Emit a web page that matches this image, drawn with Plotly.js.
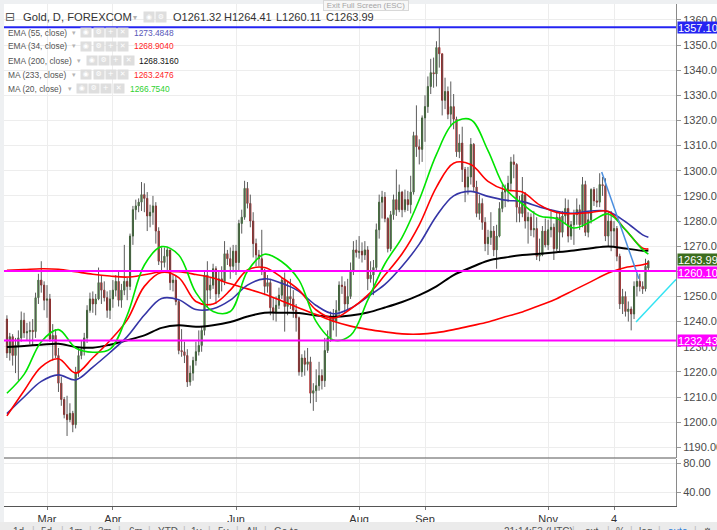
<!DOCTYPE html>
<html><head><meta charset="utf-8">
<script src="https://cdn.plot.ly/plotly-3.0.1.min.js"></script>
<style>html,body{margin:0;padding:0;background:#fff;overflow:hidden}#chart{width:717px;height:530px}</style>
</head><body><div id="chart"></div>
<script>
// ---- Daily OHLC (bar index 0 = first visible bar) ----
const O = [1241.0,1227.5,1234.0,1226.5,1230.5,1233.5,1240.5,1235.5,1236.0,1236.5,
1236.0,1249.5,1256.5,1254.5,1248.5,1249.0,1233.0,1234.5,1226.5,1215.5,
1209.0,1203.0,1201.0,1203.5,1199.0,1219.5,1226.5,1229.0,1233.5,1244.5,
1249.0,1247.0,1249.0,1255.5,1252.5,1249.5,1244.5,1249.0,1252.5,1256.0,
1248.5,1252.5,1256.0,1254.0,1274.0,1284.5,1286.0,1287.5,1290.5,1289.0,
1282.0,1283.5,1286.0,1276.0,1264.0,1263.5,1266.0,1268.5,1255.5,1256.5,
1248.0,1228.5,1228.0,1226.5,1216.0,1219.5,1224.5,1228.0,1230.5,1236.5,
1258.5,1252.5,1254.5,1261.0,1251.0,1257.0,1256.0,1267.0,1265.0,1262.0,
1268.0,1263.5,1279.0,1281.5,1293.0,1287.0,1280.0,1271.0,1266.5,1265.0,
1260.5,1254.0,1255.5,1245.5,1243.5,1246.5,1250.5,1256.5,1246.0,1250.0,
1249.0,1244.5,1241.5,1220.0,1225.5,1223.0,1224.0,1211.5,1212.5,1214.5,
1218.5,1216.5,1228.5,1233.5,1241.5,1240.0,1244.5,1254.5,1254.0,1247.0,
1250.0,1260.5,1268.5,1267.5,1268.0,1266.5,1268.5,1257.0,1258.5,1261.5,
1276.5,1287.5,1289.5,1281.0,1269.0,1282.5,1288.5,1284.5,1291.5,1284.5,
1288.5,1286.5,1291.5,1314.0,1309.5,1308.5,1321.0,1325.5,1333.5,1339.0,
1338.5,1349.0,1346.5,1328.0,1331.5,1322.5,1325.5,1320.5,1307.5,1311.0,
1300.5,1293.5,1297.5,1310.5,1293.5,1283.0,1287.0,1279.5,1271.0,1273.5,
1276.0,1268.5,1274.0,1285.0,1291.5,1292.5,1295.0,1303.5,1302.5,1285.5,
1283.0,1290.5,1280.0,1281.5,1276.5,1277.0,1266.0,1266.5,1276.0,1270.5,
1276.5,1277.5,1269.0,1281.5,1275.5,1282.0,1285.0,1274.0,1278.5,1282.5,
1284.5,1278.5,1294.5,1275.5,1280.5,1292.5,1288.0,1287.5,1294.5,1294.0,
1274.0,1280.0,1276.0,1277.0,1266.0,1247.0,1250.0,1244.0,1245.0,1243.0,
1254.0,1256.0,1254.0,1253.0,1261.32];
const H = [1242.5,1235.5,1235.0,1233.5,1236.5,1244.0,1243.5,1239.5,1240.0,1241.0,
1251.5,1259.0,1264.0,1256.0,1254.5,1251.0,1239.0,1237.0,1229.5,1218.0,
1210.0,1210.5,1207.5,1204.5,1222.0,1229.5,1232.5,1235.5,1246.5,1251.5,
1252.0,1251.0,1261.5,1258.5,1256.0,1252.0,1252.5,1256.5,1258.5,1260.5,
1255.0,1270.5,1257.5,1275.0,1286.0,1288.5,1289.0,1295.5,1295.0,1291.5,
1286.5,1290.0,1287.5,1277.5,1269.5,1269.5,1269.5,1268.5,1258.5,1258.5,
1248.5,1237.0,1232.0,1229.0,1222.5,1226.0,1232.0,1236.5,1238.0,1260.0,
1264.0,1257.5,1263.0,1262.0,1260.0,1262.0,1272.0,1268.5,1269.5,1270.5,
1270.5,1280.5,1284.5,1296.0,1295.5,1290.5,1283.5,1273.0,1268.5,1276.5,
1261.0,1258.5,1257.0,1249.5,1250.0,1253.5,1257.5,1259.5,1256.0,1257.0,
1252.5,1247.0,1242.0,1227.0,1228.5,1229.5,1226.0,1215.5,1221.0,1224.0,
1221.0,1233.5,1236.5,1244.0,1245.0,1248.5,1256.0,1258.0,1256.0,1257.0,
1263.5,1272.0,1272.5,1274.0,1271.5,1272.0,1270.0,1264.0,1264.5,1279.0,
1290.5,1292.0,1291.5,1281.5,1284.0,1290.5,1300.5,1294.5,1292.0,1292.5,
1292.0,1298.0,1315.5,1326.0,1312.5,1322.0,1330.0,1337.5,1344.5,1345.0,
1351.5,1357.1,1346.5,1337.0,1333.5,1335.5,1330.5,1321.5,1314.5,1317.5,
1301.5,1301.5,1313.0,1311.0,1296.0,1290.5,1289.0,1281.5,1276.5,1283.5,
1278.0,1278.5,1287.5,1294.5,1294.5,1298.0,1305.5,1306.5,1303.0,1290.0,
1297.5,1291.5,1283.5,1283.0,1284.0,1281.5,1273.0,1278.0,1281.0,1280.5,
1284.5,1279.0,1283.5,1283.5,1284.0,1289.0,1288.5,1280.0,1284.5,1289.0,
1286.5,1297.5,1296.0,1283.5,1293.0,1293.5,1293.0,1299.0,1297.5,1297.0,
1284.0,1284.0,1280.0,1278.0,1267.0,1253.0,1252.0,1248.0,1246.0,1256.0,
1259.0,1259.0,1256.0,1265.0,1264.41];
const L = [1225.5,1224.5,1222.5,1219.5,1216.5,1232.0,1233.5,1232.5,1231.0,1230.5,
1233.5,1247.0,1251.5,1244.5,1241.5,1232.0,1224.5,1225.5,1212.0,1206.5,
1201.5,1194.5,1200.0,1196.0,1197.5,1218.0,1225.0,1226.5,1231.5,1243.5,
1243.5,1242.5,1248.5,1247.0,1248.0,1241.5,1241.0,1245.5,1250.0,1246.0,
1245.5,1250.5,1248.5,1252.5,1270.5,1280.5,1283.5,1284.0,1283.5,1276.0,
1277.5,1278.5,1271.0,1262.5,1260.5,1261.5,1260.5,1252.5,1252.0,1246.5,
1227.0,1226.0,1223.5,1214.0,1214.5,1216.5,1222.5,1226.5,1228.0,1234.5,
1245.5,1249.0,1253.0,1247.0,1249.5,1252.0,1254.5,1262.5,1257.0,1259.5,
1258.5,1260.5,1275.0,1280.5,1285.0,1277.5,1265.5,1262.0,1262.0,1258.5,
1250.5,1251.5,1242.5,1240.5,1240.0,1245.0,1249.0,1236.0,1242.5,1245.0,
1241.5,1236.0,1218.5,1218.0,1218.5,1220.5,1207.5,1204.5,1208.0,1212.5,
1213.0,1214.0,1227.5,1232.0,1236.5,1234.0,1242.0,1251.0,1243.5,1245.0,
1249.0,1258.5,1265.5,1265.0,1263.5,1264.5,1252.5,1255.5,1250.5,1260.0,
1273.0,1281.0,1279.5,1267.5,1268.0,1280.5,1282.0,1283.5,1281.5,1283.5,
1284.0,1283.0,1290.5,1305.5,1302.5,1303.5,1311.5,1323.0,1330.5,1333.0,
1333.5,1341.0,1322.0,1324.5,1320.5,1317.5,1316.5,1305.5,1305.0,1295.5,
1287.5,1290.5,1294.5,1291.5,1281.5,1280.5,1276.5,1268.0,1266.5,1270.5,
1266.0,1261.0,1273.5,1283.5,1285.5,1287.5,1292.0,1297.0,1279.5,1279.5,
1281.5,1277.0,1271.0,1274.0,1273.5,1264.5,1264.0,1266.0,1269.5,1268.5,
1273.5,1264.5,1268.0,1268.0,1273.5,1279.0,1271.5,1272.5,1270.5,1278.5,
1276.5,1277.5,1274.0,1273.5,1279.0,1286.0,1285.5,1285.5,1290.0,1272.0,
1270.0,1268.0,1270.0,1264.0,1245.0,1243.0,1242.0,1240.0,1236.5,1241.0,
1250.0,1252.0,1251.0,1252.0,1260.11];
const C = [1227.5,1234.0,1226.5,1230.5,1233.5,1240.5,1235.5,1236.0,1236.5,1236.0,
1249.5,1256.5,1254.5,1248.5,1249.0,1233.0,1234.5,1226.5,1215.5,1209.0,
1203.0,1201.0,1203.5,1199.0,1219.5,1226.5,1229.0,1233.5,1244.5,1249.0,
1247.0,1249.0,1255.5,1252.5,1249.5,1244.5,1249.0,1252.5,1256.0,1248.5,
1252.5,1256.0,1254.0,1274.0,1284.5,1286.0,1287.5,1290.5,1289.0,1282.0,
1283.5,1286.0,1276.0,1264.0,1263.5,1266.0,1268.5,1255.5,1256.5,1248.0,
1228.5,1228.0,1226.5,1216.0,1219.5,1224.5,1228.0,1230.5,1236.5,1258.5,
1252.5,1254.5,1261.0,1251.0,1257.0,1256.0,1267.0,1265.0,1262.0,1268.0,
1263.5,1279.0,1281.5,1293.0,1287.0,1280.0,1271.0,1266.5,1265.0,1260.5,
1254.0,1255.5,1245.5,1243.5,1246.5,1250.5,1256.5,1246.0,1250.0,1249.0,
1244.5,1241.5,1220.0,1225.5,1223.0,1224.0,1211.5,1212.5,1214.5,1218.5,
1216.5,1228.5,1233.5,1241.5,1240.0,1244.5,1254.5,1254.0,1247.0,1250.0,
1260.5,1268.5,1267.5,1268.0,1266.5,1268.5,1257.0,1258.5,1261.5,1276.5,
1287.5,1289.5,1281.0,1269.0,1282.5,1288.5,1284.5,1291.5,1284.5,1288.5,
1286.5,1291.5,1314.0,1309.5,1308.5,1321.0,1325.5,1333.5,1339.0,1338.5,
1349.0,1346.5,1328.0,1331.5,1322.5,1325.5,1320.5,1307.5,1311.0,1300.5,
1293.5,1297.5,1310.5,1293.5,1283.0,1287.0,1279.5,1271.0,1273.5,1276.0,
1268.5,1274.0,1285.0,1291.5,1292.5,1295.0,1303.5,1302.5,1285.5,1283.0,
1290.5,1280.0,1281.5,1276.5,1277.0,1266.0,1266.5,1276.0,1270.5,1276.5,
1277.5,1269.0,1281.5,1275.5,1282.0,1285.0,1274.0,1278.5,1282.5,1284.5,
1278.5,1294.5,1275.5,1280.5,1292.5,1288.0,1287.5,1294.5,1294.0,1274.0,
1280.0,1276.0,1277.0,1266.0,1247.0,1250.0,1244.0,1245.0,1243.0,1254.0,
1256.0,1254.0,1253.0,1262.0,1263.99];

// ---- Time axis labels (bar index of label) ----
const tickIdx = [14, 37, 80, 123, 146, 189, 212];
const tickLabels = ['Mar', 'Apr', 'Jun', 'Aug', 'Sep', 'Nov', '4'];

const maX = [0,6,12,18,24,30,36,42,48,54,60,66,72,78,84,90,96,102,108,114,120,126,132,138,144,150,156,162,168,174,180,186,192,198,204,210,216,222,224];
const ma20 = [1211.5,1219,1232,1236.8,1229.5,1227.8,1229,1242.5,1262.5,1269.8,1266.5,1251.5,1244,1244,1260,1266.8,1263.8,1256.5,1240,1232.7,1234.5,1248.5,1263,1273.5,1288.5,1306.5,1319,1320.3,1308,1293,1286.8,1282,1281,1277.2,1279.8,1282.8,1276.5,1268.6,1266.8];
const ema34 = [1202.5,1212.5,1222,1225.2,1219.5,1225.6,1232.5,1240.7,1254,1259.5,1257.5,1248,1247,1252.5,1260.5,1261.5,1257.5,1252.5,1244.6,1241.4,1245,1250.5,1258.5,1267,1278.5,1293.5,1303,1302.5,1295.8,1292.4,1291.5,1286.4,1283.4,1282.9,1283.4,1283.8,1276.5,1269.2,1268.9];
const ema55 = [1203.4,1210,1216.2,1218.8,1216.8,1221.9,1227.7,1234,1242.6,1249.2,1248.7,1244.8,1245.1,1248.5,1254.5,1257,1255.2,1252,1246.4,1243.1,1245.3,1249.9,1254.8,1262,1270.8,1282,1290,1291.8,1289.8,1288.3,1287.7,1285.6,1283.9,1283.1,1284,1283.8,1279.7,1274.5,1273.5];
const ema200 = [1229.9,1230.3,1230.8,1231.2,1229.9,1229.6,1230.8,1232.6,1234.5,1237.5,1238.5,1237.9,1238.5,1239.8,1242,1243.5,1243.5,1243.4,1242.4,1241.9,1242.4,1243.6,1245.6,1247.8,1250.5,1254,1258.5,1261.5,1264.2,1265.5,1266.5,1267,1267.6,1268.3,1269.2,1269.9,1269.1,1268.2,1268.3];
const ma233 = [1260.4,1260.7,1261,1260.8,1259.8,1258.8,1258.1,1257.7,1258.6,1259.8,1259.8,1258.7,1257.3,1255,1253,1250.9,1248.2,1245.4,1242.8,1240.1,1238.2,1236.9,1235.9,1235.1,1235,1235.6,1236.8,1238.3,1239.8,1241.9,1243.8,1246.4,1249.1,1252.5,1255.9,1259.3,1261.5,1262.6,1263.2];

// ---- Drawn levels and trend lines ----
const levelValues = [1357.10, 1260.10, 1232.43];
const levelColors = ['#2424f2', '#ff00ff', '#ff00ff'];
const lastClose = 1263.99;
const blueTrendX = [207.7, 220.7];
const blueTrendY = [1299.5, 1257.0];
const cyanTrendX = [219.7, 233.7];
const cyanTrendY = [1239.8, 1256.8];

// ---- Legend texts ----
const symbolTitle = 'Gold, D, FOREXCOM';
const ohlcLabels = ['O1261.32', 'H1264.41', 'L1260.11', 'C1263.99'];
const indNames = ['EMA (55, close)', 'EMA (34, close)', 'EMA (200, close)', 'MA (233, close)', 'MA (20, close)'];
const indValues = ['1273.4848', '1268.9040', '1268.3160', '1263.2476', '1266.7540'];
const indColors = ['#5757b8', '#ff1f1f', '#111111', '#ff1f1f', '#2fd12f'];

// ---- geometry helpers (layout only) ----
const W = 717, HT = 530, ML = 4, MR = 41, MT = 4, MB = 24;
const PW = W - ML - MR, PH = HT - MT - MB;
const xp = px => (px - ML) / PW;
const yp = py => (HT - MB - py) / PH;

const xIdx = C.map((_, i) => i);
const bodyHi = O.map((o, i) => Math.max(o, C[i]));
const bodyLo = O.map((o, i) => Math.min(o, C[i]));

const GREEN = '#2d6b22', RED = '#a50f0f';
const traces = [
  {type:'ohlc', x:xIdx, open:O, high:H, low:L, close:C, tickwidth:0,
   increasing:{line:{color:'#5c5c5c', width:1}}, decreasing:{line:{color:'#5c5c5c', width:1}},
   hoverinfo:'skip', showlegend:false},
  {type:'candlestick', x:xIdx, open:O, high:bodyHi, low:bodyLo, close:C, whiskerwidth:0,
   increasing:{line:{color:GREEN, width:1}, fillcolor:GREEN},
   decreasing:{line:{color:RED, width:1}, fillcolor:RED},
   hoverinfo:'skip', showlegend:false},
  {type:'scatter', mode:'lines', x:maX, y:ema200, line:{color:'#000000', width:2, shape:'spline'}, hoverinfo:'skip'},
  {type:'scatter', mode:'lines', x:maX, y:ma233, line:{color:'#ff0000', width:1.6, shape:'spline'}, hoverinfo:'skip'},
  {type:'scatter', mode:'lines', x:maX, y:ema55, line:{color:'#3535a6', width:1.6, shape:'spline'}, hoverinfo:'skip'},
  {type:'scatter', mode:'lines', x:maX, y:ema34, line:{color:'#ff0000', width:1.6, shape:'spline'}, hoverinfo:'skip'},
  {type:'scatter', mode:'lines', x:maX, y:ma20, line:{color:'#00e400', width:1.6, shape:'spline'}, hoverinfo:'skip'},
  {type:'scatter', mode:'lines', x:blueTrendX, y:blueTrendY, line:{color:'#4b8fdf', width:1.5}, hoverinfo:'skip'},
  {type:'scatter', mode:'lines', x:cyanTrendX, y:cyanTrendY, line:{color:'#33e3f2', width:1.5}, hoverinfo:'skip'},
  {type:'scatter', mode:'lines', x:[], y:[], xaxis:'x', yaxis:'y2', hoverinfo:'skip'}
];

const FONT = 'Liberation Sans, Arial, sans-serif';
const ann = [];
function txt(px, py, text, size, color, extra) {
  ann.push(Object.assign({xref:'paper', yref:'paper', x:xp(px), y:yp(py), text:text, showarrow:false,
    xanchor:'left', yanchor:'middle', font:{family:FONT, size:size, color:color}, borderpad:0}, extra || {}));
}
function icon(px, py, glyph, w, h) {
  ann.push({xref:'paper', yref:'paper', x:xp(px + w / 2), y:yp(py), text:glyph, showarrow:false,
    xanchor:'center', yanchor:'middle', width:w, height:h, borderpad:0, bgcolor:'#dedede',
    font:{family:'DejaVu Sans, sans-serif', size:7, color:'#ffffff'}});
}

// title row
txt(3.5, 17.3, '⊟', 13, '#555', {font:{family:'DejaVu Sans, sans-serif', size:12, color:'#555'}});
txt(21.5, 17.3, symbolTitle, 11.2, '#333');
txt(132, 17.3, '▾', 9, '#aaa', {font:{family:'DejaVu Sans, sans-serif', size:8, color:'#b0b0b0'}});
icon(144, 17.3, '◉', 10, 10);
icon(156, 17.3, '⚙', 10, 10);
const ohlcX = [171.5, 223, 275, 325];
ohlcLabels.forEach((t, i) => txt(ohlcX[i], 17.3, t, 11, '#333'));

// indicator rows
const rowY = [32.7, 46.3, 60.7, 74.7, 89];
const rowTri = [70.7, 70.7, 76, 70.7, 66.7];
const rowIcon = [81.7, 81.7, 87.3, 81.7, 77.3];
const rowVal = [133.3, 133.3, 138.3, 133.3, 129.3];
const glyphs = ['◉', '⚙', '+', '✕'];
indNames.forEach((n, i) => {
  txt(7, rowY[i], n, 8.4, '#555');
  txt(rowTri[i], rowY[i], '▾', 7, '#b0b0b0', {font:{family:'DejaVu Sans, sans-serif', size:7, color:'#b5b5b5'}});
  glyphs.forEach((g, k) => icon(rowIcon[i] + k * 12.2, rowY[i], g, 9.5, 8.5));
  txt(rowVal[i], rowY[i], indValues[i], 8.4, indColors[i]);
});

// exit full screen tooltip
ann.push({xref:'paper', yref:'paper', x:xp(365.5), y:yp(5.5), text:'Exit Full Screen (ESC)', showarrow:false,
  xanchor:'center', yanchor:'middle', width:84, height:9, bgcolor:'#f7f7f7', bordercolor:'#d8d8d8', borderwidth:1,
  borderpad:0, font:{family:FONT, size:7.8, color:'#a5a5a5'}});

// price tags on the right axis
function tag(v, color, yshift) {
  ann.push({xref:'paper', yref:'y', x:1, y:v, xanchor:'left', yanchor:'middle', text:v.toFixed(2),
    showarrow:false, bgcolor:color, width:44, height:11, align:'left', borderpad:0, xshift:1, yshift:yshift || 0,
    font:{family:FONT, size:11, color:'#ffffff'}});
}
tag(levelValues[0], levelColors[0]);
tag(levelValues[2], levelColors[2]);
tag(levelValues[1], levelColors[1], -1);
tag(lastClose, '#3c6e1e', 2);

// bottom toolbar
const tbLeft = [['1d',12],['5d',40],['1m',68],['3m',97],['6m',128],['YTD',157],['1y',190],['5y',217],['All',245],['Go to...',273]];
const tbLeftSep = [31,60,88,117,147,182,207,235,263];
const tbRight = [['21:14:53 (UTC)',503],['ext',584],['%',615],['log',638],['auto',667],['⚙',702]];
const tbRightSep = [571,606,629,657,693];
tbLeft.forEach(t => txt(t[1], 531.5, t[0], 10, '#555'));
tbRight.forEach(t => txt(t[1], 531.5, t[0], 10, t[0] === 'auto' ? '#2f7fd8' : '#555'));
tbLeftSep.concat(tbRightSep).forEach(s => txt(s, 530, '|', 10, '#bbbbbb'));

const shapes = [
  {type:'rect', xref:'paper', yref:'paper', x0:xp(0), x1:xp(4), y0:yp(540), y1:yp(0), fillcolor:'#eef0f2', line:{width:0}, layer:'below'},
  {type:'rect', xref:'paper', yref:'paper', x0:xp(0), x1:xp(717), y0:yp(4), y1:yp(0), fillcolor:'#eef0f2', line:{width:0}, layer:'below'},
  {type:'rect', xref:'paper', yref:'paper', x0:xp(0), x1:xp(720), y0:yp(540), y1:yp(522), fillcolor:'#ebebeb', line:{width:0}},
  {type:'line', xref:'paper', yref:'paper', x0:0, x1:1, y0:yp(458), y1:yp(458), line:{color:'#555', width:1}}
];
levelValues.forEach((v, i) => shapes.push({type:'line', xref:'paper', yref:'y', x0:0, x1:1, y0:v, y1:v,
  line:{color:levelColors[i], width:2}}));

const axisCommon = {showline:true, linecolor:'#8a8a8a', linewidth:1, ticks:'outside', ticklen:4, tickcolor:'#999',
  gridcolor:'#ededed', gridwidth:1, zeroline:false, fixedrange:true, automargin:false,
  tickfont:{family:FONT, size:11, color:'#4a4a4a'}};

const layout = {
  width:W, height:HT, margin:{l:ML, r:MR, t:MT, b:MB, pad:0},
  paper_bgcolor:'#ffffff', plot_bgcolor:'#ffffff',
  font:{family:FONT}, showlegend:false, hovermode:false, dragmode:false,
  boxgap:0.45,
  xaxis:{anchor:'y2', range:[-1.016, 233.65], tickvals:tickIdx, ticktext:tickLabels, ticks:'outside', ticklen:3,
    tickcolor:'#777', showline:true, linecolor:'#555', linewidth:1, gridcolor:'#ededed', zeroline:false,
    fixedrange:true, automargin:false, rangeslider:{visible:false}, tickfont:{family:FONT, size:11, color:'#333'}},
  yaxis:Object.assign({}, axisCommon, {domain:[yp(458), 1], range:[1185.74, 1366.31], side:'right', anchor:'x',
    dtick:10, tick0:0, tickformat:'.2f'}),
  yaxis2:Object.assign({}, axisCommon, {domain:[0, yp(459)], range:[21.1, 85.93], side:'right', anchor:'x',
    tickvals:[40, 80], ticktext:['40.00', '80.00']}),
  shapes:shapes, annotations:ann
};

Plotly.newPlot('chart', traces, layout, {staticPlot:true, displayModeBar:false});
</script>
</body></html>
